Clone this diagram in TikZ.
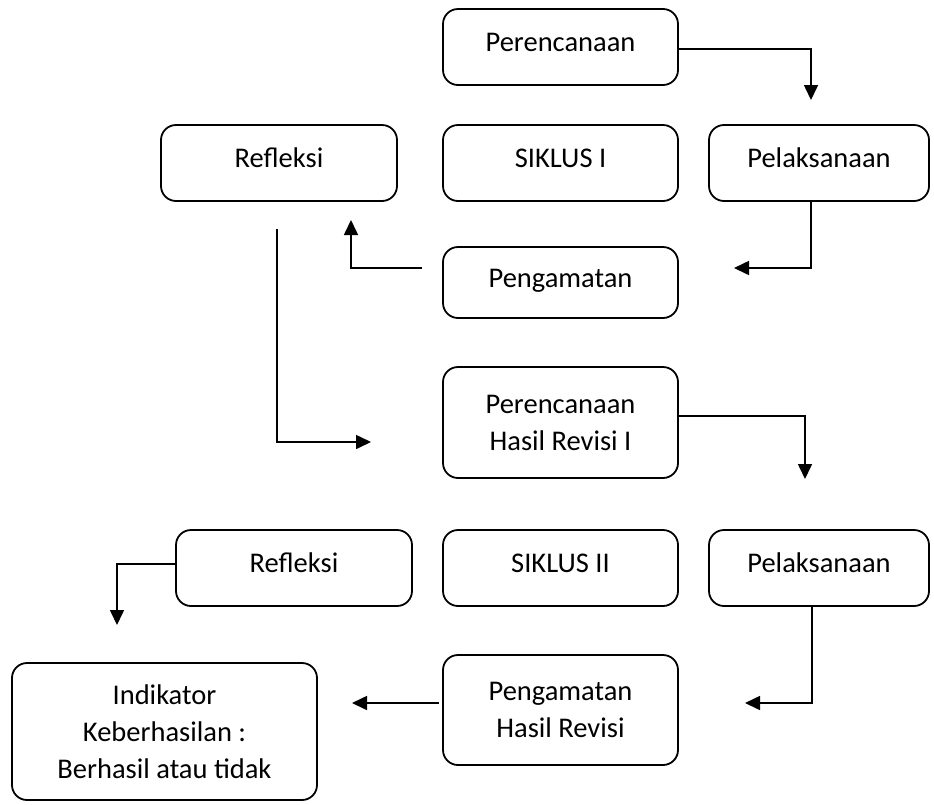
\documentclass[tikz,border=0pt]{standalone}
\usepackage{fontspec}
\setmainfont{Carlito}
\usetikzlibrary{arrows.meta}
\begin{document}
\begin{tikzpicture}[x=1pt,y=-1pt,
  box/.style={draw, line width=1.8pt, rounded corners=15pt, inner sep=0pt,
    font=\fontsize{28.5}{37}\selectfont},
  onebox/.style={box, text height=20pt, text depth=11pt},
  multibox/.style={box, align=center},
  conn/.style={line width=1.6pt, -{Triangle[length=15pt,width=14pt]}},
  plain/.style={line width=1.6pt}]
\useasboundingbox (0,0) rectangle (934,804);

% nodes
\node[onebox, minimum width=235pt, minimum height=76pt] (p1) at (560.5,47) {Perencanaan};
\node[onebox, minimum width=236pt, minimum height=76pt] (r1) at (279,163) {Refleksi};
\node[onebox, minimum width=235pt, minimum height=76pt] (s1) at (560.5,163) {SIKLUS I};
\node[onebox, minimum width=220pt, minimum height=76pt] (pl1) at (819,163) {Pelaksanaan};
\node[onebox, minimum width=235pt, minimum height=71pt] (pg1) at (560.5,282.5) {Pengamatan};
\node[multibox, minimum width=235pt, minimum height=111pt] (phr1) at (560.5,422.5) {Perencanaan\\Hasil Revisi I};
\node[onebox, minimum width=236pt, minimum height=76pt] (r2) at (294,568) {Refleksi};
\node[onebox, minimum width=235pt, minimum height=76pt] (s2) at (560.5,568) {SIKLUS II};
\node[onebox, minimum width=220pt, minimum height=76pt] (pl2) at (819,568) {Pelaksanaan};
\node[multibox, minimum width=305pt, minimum height=137pt] (ind) at (164.5,731.5) {Indikator\\Keberhasilan :\\Berhasil atau tidak};
\node[multibox, minimum width=235pt, minimum height=110pt] (phr2) at (560.5,710) {Pengamatan\\Hasil Revisi};

% free ends
\coordinate (c1) at (811,100);
\coordinate (c2a) at (811,201);
\coordinate (c2) at (734,268);
\coordinate (c3a) at (422,268);
\coordinate (c3) at (351,220);
\coordinate (c4a) at (277,229);
\coordinate (c4) at (371,442);
\coordinate (c5) at (805,479);
\coordinate (c6a) at (812,606);
\coordinate (c6) at (745,703);
\coordinate (c7a) at (439,703);
\coordinate (c7) at (352,703);
\coordinate (c8) at (117,625);

% connectors
\draw[conn] (p1.east |- 0,49) -| (c1);
\draw[conn] (c2a) |- (c2);
\draw[conn] (c3a) -| (c3);
\draw[conn] (c4a) |- (c4);
\draw[conn] (phr1.east |- 0,416) -| (c5);
\draw[conn] (c6a) |- (c6);
\draw[conn] (c7a) -- (c7);
\draw[conn] (r2.west |- 0,564) -| (c8);
\end{tikzpicture}
\end{document}
